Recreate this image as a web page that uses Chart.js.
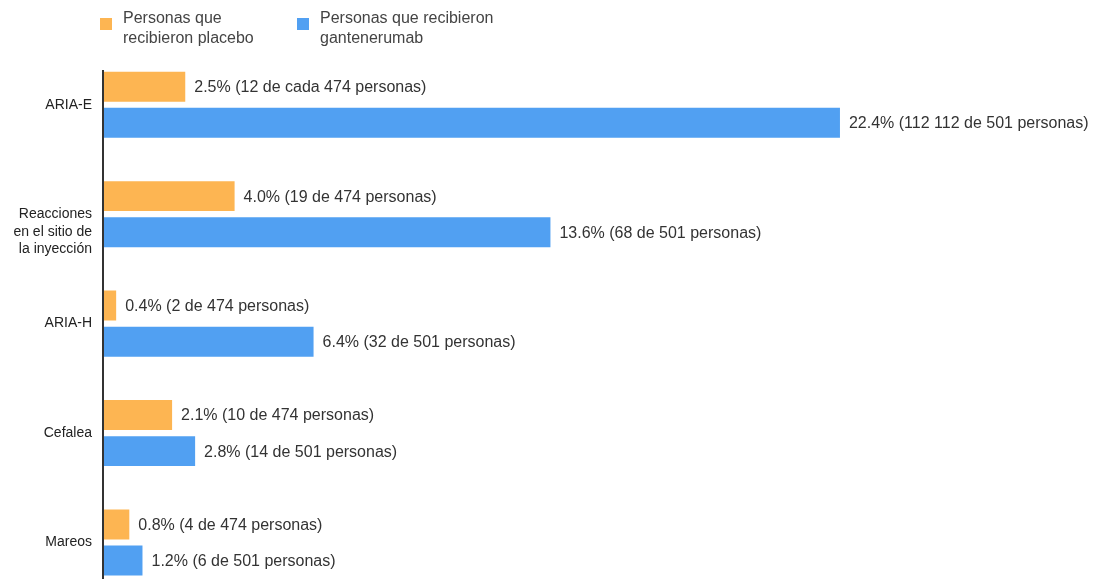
<!DOCTYPE html>
<html>
<head>
<meta charset="utf-8">
<script src="https://cdn.jsdelivr.net/npm/chart.js@4/dist/chart.umd.min.js"></script>
<style>
  html, body { margin: 0; padding: 0; background: #fff; overflow: hidden; }
  #wrap { width: 1101px; height: 617px; }
</style>
</head>
<body>
<div id="wrap"><canvas id="chart" width="1101" height="617"></canvas></div>
<script>
// data
const categories = ['ARIA-E', ['Reacciones', 'en el sitio de', 'la inyección'], 'ARIA-H', 'Cefalea', 'Mareos'];
const placeboPct = [2.5, 4.0, 0.4, 2.1, 0.8];
const drugPct = [22.4, 13.6, 6.4, 2.8, 1.2];
const placeboLabels = [
    '2.5% (12 de cada 474 personas)',
    '4.0% (19 de 474 personas)',
    '0.4% (2 de 474 personas)',
    '2.1% (10 de 474 personas)',
    '0.8% (4 de 474 personas)'
];
const drugLabels = [
    '22.4% (112 112 de 501 personas)',
    '13.6% (68 de 501 personas)',
    '6.4% (32 de 501 personas)',
    '2.8% (14 de 501 personas)',
    '1.2% (6 de 501 personas)'
];
const legendLines = [
    ['Personas que', 'recibieron placebo'],
    ['Personas que recibieron', 'gantenerumab']
];

const ORANGE = '#fdb552';
const BLUE = '#51a0f2';
const FONT = '"Liberation Sans", Arial, sans-serif';

// values at the end of each bar
const barLabels = {
    id: 'barLabels',
    afterDatasetsDraw(chart) {
        const ctx = chart.ctx;
        ctx.save();
        ctx.font = '16px ' + FONT;
        ctx.fillStyle = '#333';
        ctx.textBaseline = 'middle';
        ctx.textAlign = 'left';
        chart.data.datasets.forEach((ds, i) => {
            chart.getDatasetMeta(i).data.forEach((bar, j) => {
                ctx.fillText(ds.valueLabels[j], bar.x + 9, bar.y + 1);
            });
        });
        ctx.restore();
    }
};

// legend on two lines + left axis line
const topLegend = {
    id: 'topLegend',
    afterDraw(chart) {
        const ctx = chart.ctx;
        const area = chart.chartArea;
        ctx.save();

        ctx.strokeStyle = '#333';
        ctx.lineWidth = 2;
        ctx.beginPath();
        ctx.moveTo(area.left, 70);
        ctx.lineTo(area.left, area.bottom);
        ctx.stroke();

        const spots = [100, 297];
        ctx.font = '16px ' + FONT;
        ctx.textBaseline = 'middle';
        chart.data.datasets.forEach((ds, i) => {
            const x = spots[i];
            ctx.fillStyle = ds.backgroundColor;
            ctx.fillRect(x, 18, 12, 12);
            ctx.fillStyle = '#444';
            legendLines[i].forEach((line, k) => {
                ctx.fillText(line, x + 23, 19 + k * 20);
            });
        });
        ctx.restore();
    }
};

new Chart(document.getElementById('chart'), {
    type: 'bar',
    data: {
        labels: categories,
        datasets: [
            {
                label: 'Personas que recibieron placebo',
                data: placeboPct,
                valueLabels: placeboLabels,
                backgroundColor: ORANGE,
                categoryPercentage: 0.66,
                barPercentage: 0.83
            },
            {
                label: 'Personas que recibieron gantenerumab',
                data: drugPct,
                valueLabels: drugLabels,
                backgroundColor: BLUE,
                categoryPercentage: 0.66,
                barPercentage: 0.83
            }
        ]
    },
    options: {
        indexAxis: 'y',
        responsive: false,
        animation: false,
        layout: { padding: { left: 0, right: 11, top: 50, bottom: 3 } },
        scales: {
            x: {
                display: false,
                min: 0,
                max: 30
            },
            y: {
                grid: { display: false, drawTicks: false },
                border: { display: false },
                afterFit(scale) { scale.width = 103; },
                ticks: {
                    padding: 11,
                    color: '#222',
                    font: { family: FONT, size: 14, lineHeight: 1.25 },
                    callback(value) {
                        const lbl = this.getLabelForValue(value);
                        // google style: first line of a wrapped label sits on the bars' center
                        if (Array.isArray(categories[value])) {
                            return ['', ''].concat(categories[value]);
                        }
                        return lbl;
                    }
                }
            }
        },
        plugins: {
            legend: { display: false },
            tooltip: { enabled: false }
        }
    },
    plugins: [barLabels, topLegend]
});
</script>
</body>
</html>
